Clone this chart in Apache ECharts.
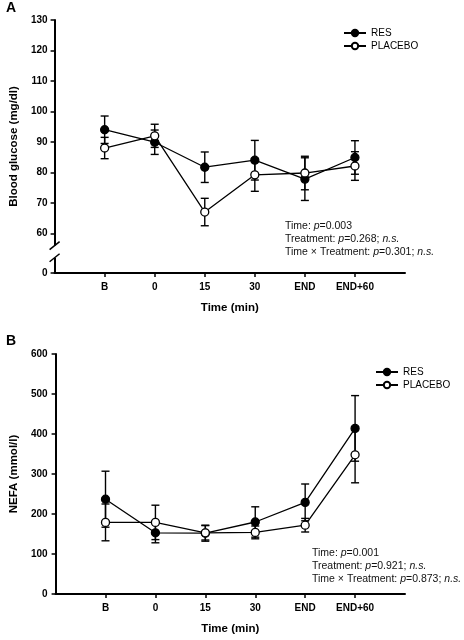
<!DOCTYPE html>
<html><head><meta charset="utf-8">
<script src="https://cdn.jsdelivr.net/npm/echarts@6/dist/echarts.min.js"></script>
<style>html,body{margin:0;padding:0;background:#fff}#c{width:464px;height:640px}</style>
</head><body><div id="c"></div>
<script>
const categories = ['B', '0', '15', '30', 'END', 'END+60'];
const glucoseRES = [94, 89.9, 81.7, 84, 77.8, 84.9];
const glucoseRESErr = [4.5, 4, 5, 6.5, 7, 5.5];
const glucosePLA = [88, 92, 67, 79.2, 79.8, 82.1];
const glucosePLAErr = [3.5, 3.8, 4.5, 5.4, 5.5, 4.7];
const nefaRES = [237, 153, 152, 180, 229, 414];
const nefaRESErr = [70, 25, 20, 38, 46, 82];
const nefaPLA = [179, 179, 153, 154, 172, 348];
const nefaPLAErr = [46, 43, 18, 16, 17, 70];
const glucoseTicks = [60, 70, 80, 90, 100, 110, 120, 130];
const glucoseBreakValue = 47; // position of the "0" label below the axis break
const nefaTicks = [0, 100, 200, 300, 400, 500, 600];

const FONT = 'Liberation Sans, Arial, sans-serif';
const idx = categories.map((c, i) => i);

function pts(vals) { return vals.map((v, i) => [i, v]); }
function errPts(vals, errs) { return vals.map((v, i) => [i, v, errs[i]]); }

function errRender(params, api) {
  const i = api.value(0), y = api.value(1), e = api.value(2);
  const top = api.coord([i, y + e]);
  const bot = api.coord([i, y - e]);
  const w = 4;
  const st = { stroke: '#000', lineWidth: 1.4 };
  return {
    type: 'group',
    children: [
      { type: 'line', shape: { x1: top[0], y1: top[1], x2: bot[0], y2: bot[1] }, style: st },
      { type: 'line', shape: { x1: top[0] - w, y1: top[1], x2: top[0] + w, y2: top[1] }, style: st },
      { type: 'line', shape: { x1: bot[0] - w, y1: bot[1], x2: bot[0] + w, y2: bot[1] }, style: st }
    ]
  };
}

function xAxisDef(gridIndex) {
  return {
    type: 'value', gridIndex, min: -1, max: 6,
    name: 'Time (min)', nameLocation: 'middle', nameGap: 29,
    nameTextStyle: { fontFamily: FONT, fontWeight: 'bold', fontSize: 11.5, color: '#000' },
    axisLine: { onZero: false, lineStyle: { color: '#000', width: 2 } },
    axisTick: { customValues: idx, length: 4, lineStyle: { color: '#000', width: 1.5 } },
    axisLabel: { customValues: idx, formatter: v => categories[v], margin: 9,
      fontFamily: FONT, fontWeight: 'bold', fontSize: 10, color: '#000' },
    splitLine: { show: false }
  };
}

function lineSeries(name, data, filled, xi, yi) {
  return {
    type: 'line', name, xAxisIndex: xi, yAxisIndex: yi, data,
    symbol: 'circle', symbolSize: 8, z: 5,
    lineStyle: { color: '#000', width: 1.3 },
    itemStyle: { color: filled ? '#000' : '#fff', borderColor: '#000', borderWidth: 1.3 },
    emphasis: { disabled: true }, animation: false
  };
}
function errSeries(data, xi, yi) {
  return { type: 'custom', xAxisIndex: xi, yAxisIndex: yi, data, renderItem: errRender, z: 3, animation: false, silent: true };
}

function stats(t, tr, inter) {
  return 'Time: {i|p}=' + t + '\nTreatment: {i|p}=' + tr + '; {i|n.s.}\nTime × Treatment: {i|p}=' + inter + '; {i|n.s.}';
}
const statStyle = { fontFamily: FONT, fontSize: 10.5, color: '#111', lineHeight: 13, fontWeight: 'normal',
  rich: { i: { fontFamily: FONT, fontSize: 10.5, fontStyle: 'italic', color: '#111', lineHeight: 13 } } };

const chart = echarts.init(document.getElementById('c'), null, { renderer: 'canvas' });
chart.setOption({
  animation: false,
  backgroundColor: '#fff',
  title: [
    { text: 'A', left: 1, top: -4, textStyle: { fontFamily: FONT, fontWeight: 'bold', fontSize: 14, color: '#000' } },
    { text: 'B', left: 1, top: 329, textStyle: { fontFamily: FONT, fontWeight: 'bold', fontSize: 14, color: '#000' } },
    { text: stats('0.003', '0.268', '0.301'), left: 280, top: 215, textStyle: statStyle },
    { text: stats('0.001', '0.921', '0.873'), left: 307, top: 542, textStyle: statStyle }
  ],
  legend: [
    { data: ['RES', 'PLACEBO'], orient: 'vertical', left: 338, top: 23, itemWidth: 22, itemHeight: 8, itemGap: 3,
      textStyle: { fontFamily: FONT, fontSize: 10, color: '#000' }, selectedMode: false },
    { data: ['RES', 'PLACEBO'], orient: 'vertical', left: 370, top: 362, itemWidth: 22, itemHeight: 8, itemGap: 3,
      textStyle: { fontFamily: FONT, fontSize: 10, color: '#000' }, selectedMode: false }
  ],
  grid: [
    { left: 52, top: 20, right: 59, bottom: 367 },
    { left: 48, top: 354, right: 59, bottom: 46 }
  ],
  xAxis: [xAxisDef(0), xAxisDef(1)],
  yAxis: [
    { type: 'value', gridIndex: 0, min: glucoseBreakValue, max: 130,
      name: 'Blood glucose (mg/dl)', nameLocation: 'middle', nameGap: 33,
      nameTextStyle: { fontFamily: FONT, fontWeight: 'bold', fontSize: 11.5, color: '#000' },
      axisLine: { show: true, onZero: false, lineStyle: { color: '#000', width: 2 } },
      axisTick: { show: true, customValues: [glucoseBreakValue].concat(glucoseTicks), length: 4, lineStyle: { color: '#000', width: 1.5 } },
      axisLabel: { customValues: [glucoseBreakValue].concat(glucoseTicks), formatter: v => v === glucoseBreakValue ? '0' : String(v),
        margin: 7, fontFamily: FONT, fontWeight: 'bold', fontSize: 10, color: '#000' },
      splitLine: { show: false } },
    { type: 'value', gridIndex: 1, min: 0, max: 600, interval: 100,
      name: 'NEFA (mmol/l)', nameLocation: 'middle', nameGap: 33,
      nameTextStyle: { fontFamily: FONT, fontWeight: 'bold', fontSize: 11.5, color: '#000' },
      axisLine: { show: true, onZero: false, lineStyle: { color: '#000', width: 2 } },
      axisTick: { show: true, length: 4, lineStyle: { color: '#000', width: 1.5 } },
      axisLabel: { customValues: nefaTicks, margin: 8, fontFamily: FONT, fontWeight: 'bold', fontSize: 10, color: '#000' },
      splitLine: { show: false } }
  ],
  series: [
    errSeries(errPts(glucoseRES, glucoseRESErr), 0, 0),
    errSeries(errPts(glucosePLA, glucosePLAErr), 0, 0),
    lineSeries('RES', pts(glucoseRES), true, 0, 0),
    lineSeries('PLACEBO', pts(glucosePLA), false, 0, 0),
    errSeries(errPts(nefaRES, nefaRESErr), 1, 1),
    errSeries(errPts(nefaPLA, nefaPLAErr), 1, 1),
    lineSeries('RES', pts(nefaRES), true, 1, 1),
    lineSeries('PLACEBO', pts(nefaPLA), false, 1, 1)
  ]
});

// axis break marks on panel A's y axis
const pTop = chart.convertToPixel({ gridIndex: 0 }, [-1, 56]);
const pBot = chart.convertToPixel({ gridIndex: 0 }, [-1, 52]);
const ax = pTop[0];
chart.setOption({
  graphic: [
    { type: 'rect', shape: { x: ax - 3, y: pTop[1], width: 6, height: pBot[1] - pTop[1] }, style: { fill: '#fff' }, z: 100 },
    { type: 'line', shape: { x1: ax - 5, y1: pTop[1] + 4, x2: ax + 5, y2: pTop[1] - 4 }, style: { stroke: '#000', lineWidth: 1.5 }, z: 101 },
    { type: 'line', shape: { x1: ax - 5, y1: pBot[1] + 4, x2: ax + 5, y2: pBot[1] - 4 }, style: { stroke: '#000', lineWidth: 1.5 }, z: 101 }
  ]
});
</script></body></html>
